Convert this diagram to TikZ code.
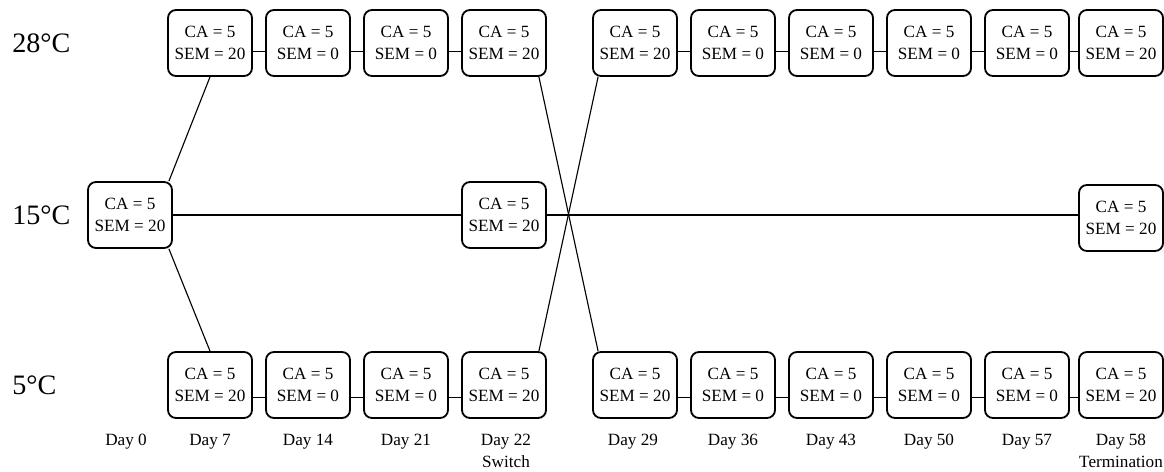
\documentclass[tikz,border=0pt]{standalone}
\usepackage{fontspec}
\setmainfont{Liberation Serif}
\usetikzlibrary{positioning,calc}
\tikzset{every picture/.style={font issue=\fontsize{12.2}{15.4}},
         font issue/.style={execute at begin picture={#1\selectfont}}
        }

\begin{document}
\begin{tikzpicture}[x=0.025cm, y=-0.025cm,
  box/.style={draw, line width=1.3pt, rounded corners=0.2cm, minimum width=2.1cm, minimum height=1.65cm, align=center, inner sep=0pt},
  temp/.style={anchor=west, inner sep=0pt, font=\fontsize{20}{24}\selectfont},
  day/.style={anchor=north, inner sep=0pt, align=center},
  link/.style={line width=0.8pt}]
\useasboundingbox (0,0) rectangle (1164,472);

% temperatures
\node[temp] (hot) at (12,43) {28°C};
\node[temp] (mid) at (12,215) {15°C};
\node[temp] (cold) at (12,385) {5°C};

% boxes
\node[box] (m0) at (130,215) {CA = 5\\SEM = 20};
\node[box] (m22) at (504,215) {CA = 5\\SEM = 20};
\node[box] (m58) at (1121,218) {CA = 5\\SEM = 20};
\foreach \d/\x/\s in {7/210/20,14/308/0,21/406/0,22/504/20,29/635/20,36/733/0,43/831/0,50/929/0,57/1027/0,58/1121/20}{
  \node[box] (t\d) at (\x,43) {CA = 5\\SEM = \s};
  \node[box] (b\d) at (\x,385) {CA = 5\\SEM = \s};
}

% days
\node[day] (l0) at (126,434) {Day 0};
\foreach \d/\x in {7/210,14/308,21/406,29/633,36/733,43/831,50/929,57/1027}
  \node[day] (l\d) at (\x,434) {Day \d};
\node[day] (l22) at (506,434) {Day 22\\Switch};
\node[day] (l58) at (1121,434) {Day 58\\Termination};

% links
\foreach \a/\b in {7/14,14/21,21/22,29/36,36/43,43/50,50/57,57/58}{
  \draw[link] ([yshift=-0.22cm]t\a.east) -- ([yshift=-0.22cm]t\b.west);
  \draw[link] ([yshift=-0.32cm]b\a.east) -- ([yshift=-0.32cm]b\b.west);
}
\draw[link] (m0.east) -- (m22.west);
\draw[link] (m22.east) -- (m22.east -| m58.west);
\draw[link] ([xshift=-0.1cm]m0.north east) -- (t7.south);
\draw[link] ([xshift=-0.1cm]m0.south east) -- (b7.north);
\draw[link] ([xshift=-0.2cm]t22.south east) -- ([xshift=0.15cm]b29.north west);
\draw[link] ([xshift=-0.2cm]b22.north east) -- ([xshift=0.15cm]t29.south west);
\end{tikzpicture}
\end{document}
